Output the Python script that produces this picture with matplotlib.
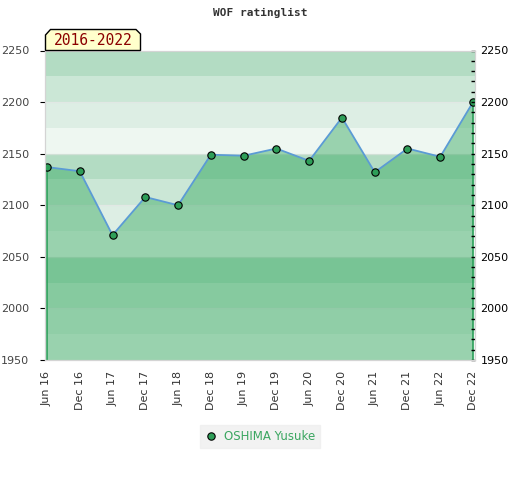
import numpy as np
from matplotlib import pyplot as plt
from matplotlib.patches import Polygon
from matplotlib.lines import Line2D
from matplotlib.ticker import MultipleLocator

# data
periods = ['Jun 16', 'Dec 16', 'Jun 17', 'Dec 17', 'Jun 18', 'Dec 18', 'Jun 19',
           'Dec 19', 'Jun 20', 'Dec 20', 'Jun 21', 'Dec 21', 'Jun 22', 'Dec 22']
rating = [2137, 2133, 2071, 2108, 2100, 2149, 2148,
          2155, 2143, 2185, 2132, 2155, 2147, 2200]
player = 'OSHIMA Yusuke'
span_label = '2016-2022'
ymin, ymax = 1950, 2250

# band colours, bottom to top inside each 100 block
band_cols = ['#eef7f1', '#ddeee4', '#cbe7d6', '#b3dcc3']
fill_col = '#32a75d'

fig = plt.figure(figsize=(5.2, 4.8), dpi=100)
ax = fig.add_axes([45/520, 1-360/480, 430/520, 309.5/480])

x = np.arange(len(periods))

# background stripes every 25 points
for i, lo in enumerate(range(ymin, ymax, 25)):
    ax.axhspan(lo, lo+25, color=band_cols[i % 4], lw=0, zorder=0)
for g in range(ymin+50, ymax, 50):
    ax.axhline(g, color='#e4e4e4', lw=1, alpha=0.6, zorder=0.5)

ax.fill_between(x, rating, ymin, facecolor=fill_col, alpha=0.45, lw=0, zorder=1)
ax.plot([x[0], x[0]], [ymin, rating[0]], color='#2ca05a', lw=1.2, zorder=2)
ax.plot([x[-1], x[-1]], [ymin, rating[-1]], color='#2ca05a', lw=1.2, zorder=2)
ax.plot(x, rating, color='#5b9bd5', lw=1.3, zorder=3)
ax.plot(x, rating, 'o', ms=5.3, mfc='#2e9e58', mec='black', mew=0.8, zorder=4)

ax.set_xlim(-0.06, len(periods)-1+0.06)
ax.set_ylim(ymin, ymax)
ax.set_xticks(x)
ax.set_xticklabels(periods, rotation=90, fontsize=8, color='#333333')
ax.tick_params(axis='x', length=0, pad=8)

ax.yaxis.set_major_locator(MultipleLocator(50))
ax.tick_params(axis='y', left=False, labelleft=True, labelsize=8, labelcolor='#444444', pad=8)
ax2 = ax.twinx()
ax2.set_ylim(ymin, ymax)
ax2.yaxis.set_major_locator(MultipleLocator(50))
ax2.yaxis.set_minor_locator(MultipleLocator(10))
ax2.tick_params(axis='y', which='both', direction='in', length=3, width=1,
                color='black', labelsize=8, labelcolor='black', pad=4)
for a in (ax, ax2):
    for s in a.spines.values():
        s.set_color('#d4d4d4')

fig.text(0.5, 1-13/480, 'WOF ratinglist', ha='center', va='center',
         family='DejaVu Sans Mono', fontweight='bold', fontsize=8, color='#333333')

# year-range badge
bx = [45.5, 45.5, 50.5, 136, 140.5, 140.5]
by = [50.5, 35, 29.5, 29.5, 34, 50.5]
badge = Polygon([(px/520, 1-py/480) for px, py in zip(bx, by)], closed=True,
                transform=fig.transFigure, facecolor='#ffffcc', edgecolor='black', lw=1, zorder=10)
fig.patches.append(badge)
fig.text(93/520, 1-40.5/480, span_label, ha='center', va='center',
         family='DejaVu Sans Mono', fontsize=10.5, color='#8b0000', zorder=11)

handle = Line2D([], [], ls='none', marker='o', ms=5.3, mfc='#2e9e58', mec='black', mew=0.8)
leg = fig.legend([handle], [player], loc='center', bbox_to_anchor=(260/520, 1-436.5/480),
                 frameon=True, fancybox=False, fontsize=8.5, handlelength=1, handletextpad=0.6,
                 borderpad=0.45)
leg.get_frame().set_facecolor('#efefef')
leg.get_frame().set_edgecolor('#efefef')
for t in leg.get_texts():
    t.set_color('#3aa660')

fig.savefig('out.png', dpi=100)
